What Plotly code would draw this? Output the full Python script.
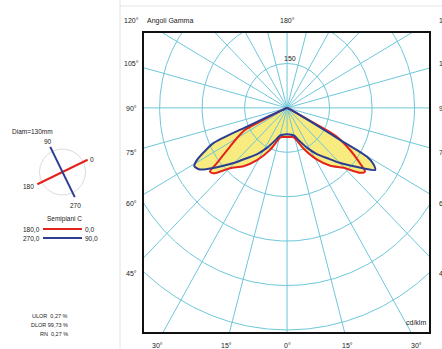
import numpy as np
import plotly.graph_objects as go

# ---------------- data (cd/klm vs gamma angle) ----------------
# C0-C180 plane (red)
g_c180 = [0, 10, 14, 23, 31, 38, 44.6, 49.6, 51.7, 53, 57, 60, 63.5, 64.3, 65.5, 67, 90]
i_c180 = [98, 100, 104, 154, 206, 250, 286, 341, 347, 311, 240, 205, 166, 93, 35, 10, 0]
g_c0 = [0, 10, 14, 23, 31, 38, 44.6, 49.6, 52, 54, 57.4, 61, 61.8, 63, 66, 90]
i_c0 = [98, 100, 104, 150, 203, 248, 284, 338, 349, 318, 264, 200, 110, 40, 10, 0]
# C90-C270 plane (blue)
g_c270 = [0, 10, 15, 20, 28, 34, 40, 45, 50, 53, 56, 59, 61, 63, 65.4, 66, 66.5, 67.5, 90]
i_c270 = [89, 92, 97, 114, 154, 188, 222, 262, 308, 340, 372, 382, 364, 330, 286, 155, 60, 15, 0]
g_c90 = [0, 10, 15, 20, 28, 34, 40, 45, 50, 53, 56, 58, 59.7, 60, 60.8, 62, 65, 90]
i_c90 = [89, 92, 97, 114, 154, 188, 222, 262, 307, 340, 375, 360, 326, 216, 106, 40, 10, 0]

circle_values = [150, 300, 450, 600, 750]
spoke_step = 15
bottom_ticks = [30, 15, 0, 15, 30]
bottom_tick_angles = [-30, -15, 0, 15, 30]
side_ticks = [105, 90, 75, 60, 45]

legend_rows = [("180,0", "0,0", "#E3231B"), ("270,0", "90,0", "#2C3E91")]
stats = ["ULOR  0,27 %", "DLOR 99,73 %", "RN  0,27 %"]

RED = "#E3231B"
BLUE = "#2C3E91"
YELLOW = "#F8EB80"
GRID = "#6EC7D9"
FONT = "Arial, Liberation Sans, sans-serif"

W, H = 442, 349
X0, X1, Y0, Y1 = 144, 429, 33, 332  # frame in px
CX, CY = 287, 108


def px2paper(x, y):
    return x / W, 1 - y / H


def side_xy(g, i, s):
    g = np.radians(np.array(g, dtype=float))
    i = np.array(i, dtype=float)
    return s * i * np.sin(g), -i * np.cos(g)


def curve(g_left, i_left, g_right, i_right):
    xl, yl = side_xy(g_left, i_left, -1)
    xr, yr = side_xy(g_right, i_right, 1)
    x = np.concatenate([xl[::-1], xr[1:]])
    y = np.concatenate([yl[::-1], yr[1:]])
    return x, y


fig = go.Figure()

red_x, red_y = curve(g_c180, i_c180, g_c0, i_c0)
blue_x, blue_y = curve(g_c270, i_c270, g_c90, i_c90)

for cx_, cy_ in [(blue_x, blue_y), (red_x, red_y)]:
    fig.add_trace(go.Scatter(x=cx_, y=cy_, mode="lines", fill="toself",
                             fillcolor=YELLOW, line=dict(width=0, shape="spline", smoothing=0.7),
                             hoverinfo="skip", showlegend=False))

# grid circles
t = np.linspace(0, 2 * np.pi, 721)
for r in circle_values:
    fig.add_trace(go.Scatter(x=r * np.cos(t), y=r * np.sin(t), mode="lines",
                             line=dict(color=GRID, width=1), hoverinfo="skip", showlegend=False))
# spokes
for a in range(0, 360, spoke_step):
    ar = np.radians(a)
    fig.add_trace(go.Scatter(x=[0, 1500 * np.sin(ar)], y=[0, -1500 * np.cos(ar)], mode="lines",
                             line=dict(color=GRID, width=1), hoverinfo="skip", showlegend=False))

fig.add_trace(go.Scatter(x=red_x, y=red_y, mode="lines",
                         line=dict(color=RED, width=2, shape="spline", smoothing=0.7),
                         hoverinfo="skip", showlegend=False))
fig.add_trace(go.Scatter(x=blue_x, y=blue_y, mode="lines",
                         line=dict(color=BLUE, width=2, shape="spline", smoothing=0.7),
                         hoverinfo="skip", showlegend=False))

# ---------------- small C-plane diagram (pixel-space axes) ----------------
dcx, dcy, drad, dhalf = 62.5, 172, 23, 28
tt = np.linspace(0, 2 * np.pi, 181)
fig.add_trace(go.Scatter(x=dcx + drad * np.cos(tt), y=dcy + drad * np.sin(tt), mode="lines",
                         line=dict(color="#DADADA", width=1), xaxis="x2", yaxis="y2",
                         hoverinfo="skip", showlegend=False))
for base, col in [(26, RED), (116, BLUE)]:
    a = np.radians(base)
    fig.add_trace(go.Scatter(x=[dcx - dhalf * np.cos(a), dcx + dhalf * np.cos(a)],
                             y=[dcy + dhalf * np.sin(a), dcy - dhalf * np.sin(a)], mode="lines",
                             line=dict(color=col, width=2), xaxis="x2", yaxis="y2",
                             hoverinfo="skip", showlegend=False))
for k, (lt, rt, col) in enumerate(legend_rows):
    yy = 229 + 9 * k
    fig.add_trace(go.Scatter(x=[43, 82], y=[yy, yy], mode="lines", line=dict(color=col, width=2),
                             xaxis="x2", yaxis="y2", hoverinfo="skip", showlegend=False))

fig.update_layout(
    width=W, height=H, margin=dict(l=0, r=0, t=0, b=0),
    paper_bgcolor="white", plot_bgcolor="white",
    font=dict(family=FONT, size=7, color="#222"),
    xaxis=dict(domain=[X0 / W, X1 / W], range=[-505, 501], showgrid=False, zeroline=False,
               showticklabels=False, ticks="", showline=True, mirror=True,
               linecolor="#111", linewidth=1.5, fixedrange=True),
    yaxis=dict(domain=[1 - Y1 / H, 1 - Y0 / H], range=[-757, 253], showgrid=False, zeroline=False,
               showticklabels=False, ticks="", showline=True, mirror=True,
               linecolor="#111", linewidth=1.5, fixedrange=True),
    xaxis2=dict(domain=[0, 120 / W], range=[0, 120], visible=False, fixedrange=True),
    yaxis2=dict(domain=[0, 1], range=[H, 0], visible=False, fixedrange=True),
)

ann = []


def add_text(x, y, text, xanchor="center", size=7):
    px_, py_ = px2paper(x, y)
    ann.append(dict(x=px_, y=py_, xref="paper", yref="paper", text=text, showarrow=False,
                    xanchor=xanchor, yanchor="middle", font=dict(size=size, family=FONT)))


# top labels
add_text(131, 21, "120°")
add_text(145, 21, "Angoli Gamma", xanchor="left")
add_text(CX, 21, "180°")
add_text(437, 21, "120°", xanchor="left")
# bottom labels
for lab, a in zip(bottom_ticks, bottom_tick_angles):
    add_text(CX + 224 * np.tan(np.radians(a)), 345, f"{lab}°")
# side labels
for lab in side_ticks:
    yy = CY + 165 / np.tan(np.radians(lab)) if lab != 90 else CY
    add_text(131, yy, f"{lab}°")
    add_text(437, yy, f"{lab}°", xanchor="left")
add_text(428, 322, "cd/klm", xanchor="right")
ann.append(dict(x=0, y=150, xref="x", yref="y", text="150", showarrow=False, xanchor="center",
                yanchor="bottom", xshift=3, yshift=-1, font=dict(size=7, family=FONT)))

# left panel texts
add_text(32, 131, "Diam=130mm", size=6.5)
add_text(48, 141, "90", size=6.5)
add_text(92, 159, "0", size=6.5)
add_text(28, 186, "180", size=6.5)
add_text(75, 205, "270", size=6.5)
add_text(64, 219, "Semipiani C", size=6.5)
for k, (lt, rt, col) in enumerate(legend_rows):
    add_text(42, 229 + 9 * k, lt, xanchor="right", size=6.5)
    add_text(83, 229 + 9 * k, rt, xanchor="left", size=6.5)
for k, s in enumerate(stats):
    add_text(70, 316 + 9 * k, s, xanchor="right", size=5.5)

fig.update_layout(annotations=ann)

fig.update_layout(shapes=[
    dict(type="line", xref="paper", yref="paper", x0=120 / W, x1=120 / W, y0=0, y1=1,
         line=dict(color="#E2E2E2", width=1)),
    dict(type="line", xref="paper", yref="paper", x0=120 / W, x1=1, y0=1 - 6 / H, y1=1 - 6 / H,
         line=dict(color="#E6E6E6", width=1)),
])

fig.write_html("out.html")
